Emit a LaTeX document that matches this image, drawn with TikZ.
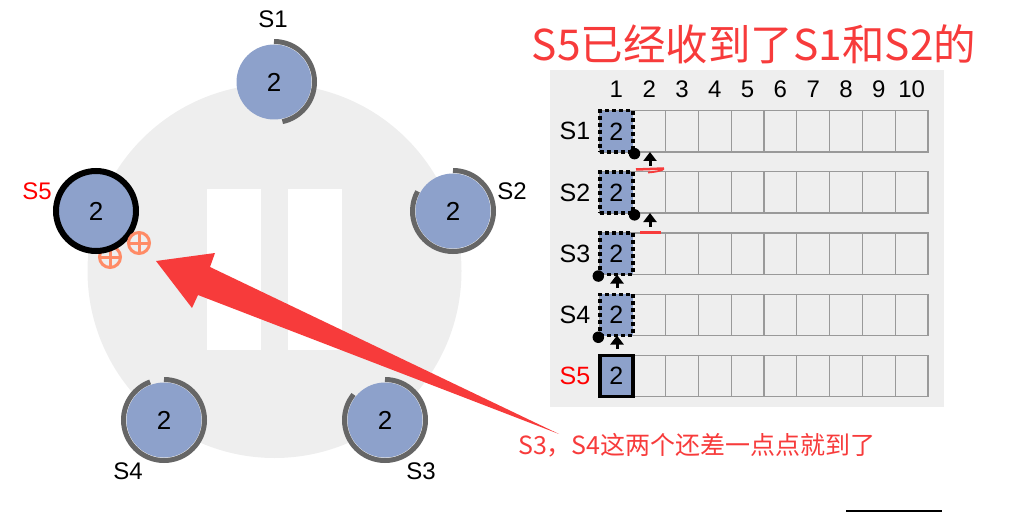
\documentclass[tikz,border=0pt]{standalone}
\usepackage{fontspec}
\setmainfont{Liberation Sans}
\newfontfamily\cjk{Noto Sans CJK SC}
\usetikzlibrary{arrows.meta}
\definecolor{bgcircle}{HTML}{EEEEEE}
\definecolor{nodeblue}{HTML}{8DA1CB}
\definecolor{arcgray}{HTML}{666666}
\definecolor{cellgray}{HTML}{999999}
\definecolor{annred}{HTML}{F73B3B}
\definecolor{lblred}{HTML}{FF0000}
\definecolor{voteorange}{HTML}{FF8B66}
\begin{document}
\begin{tikzpicture}[x=1pt,y=1pt,
  server/.style={circle, fill=nodeblue, minimum size=75pt, inner sep=0pt, font=\fontsize{26}{30}\selectfont},
  leader/.style={server, draw=black, line width=6pt, minimum size=80pt},
  timer/.style={draw=arcgray, line width=5pt},
  lbl/.style={font=\fontsize{24}{28}\selectfont, inner sep=0pt},
  cell/.style={draw=cellgray, line width=1.3pt, minimum width=32.8pt, minimum height=41.3pt, inner sep=0pt},
  entry/.style={draw=black, fill=nodeblue, line width=3.4pt, dash pattern=on 4pt off 3pt, minimum width=32.8pt, minimum height=41.3pt, inner sep=0pt, font=\fontsize{25}{30}\selectfont},
  committed/.style={entry, solid},
  hdr/.style={font=\fontsize{24}{28}\selectfont, inner sep=0pt},
  rowlbl/.style={font=\fontsize{25}{30}\selectfont, inner sep=0pt},
  vote/.style={circle, draw=voteorange, line width=3pt, minimum size=21pt, inner sep=0pt,
    path picture={\draw[voteorange, line width=3pt] (path picture bounding box.north) -- (path picture bounding box.south) (path picture bounding box.west) -- (path picture bounding box.east);}},
  dot/.style={circle, fill=black, minimum size=11.5pt, inner sep=0pt},
  uparrow/.style={-{Triangle[width=13pt,length=9pt]}, line width=3pt},
  redmark/.style={draw=annred, line width=2.5pt},
]
\useasboundingbox (0,0) rectangle (1024,512);
% background circle with pause bars
\fill[bgcircle] (274.5,241) circle (187);
\fill[white] (207,162) rectangle (261,323);
\fill[white] (288,162) rectangle (342,323);

% vote markers (first one sits behind S5)
\node[vote] (v1) at (110,255) {};

% servers
\node[server] (s1) at (274,430) {2};
\node[server] (s2) at (453,301) {2};
\node[server] (s3) at (385,92) {2};
\node[server] (s4) at (164,92) {2};
\node[leader] (s5) at (96,301) {2};
\node[vote] (v2) at (139,269) {};

\draw[timer] (s1.center) ++(90:40.5) arc[start angle=90, end angle=-78, radius=40.5];
\draw[timer] (s2.center) ++(90:40.5) arc[start angle=90, end angle=-209, radius=40.5];
\draw[timer] (s3.center) ++(90:40.5) arc[start angle=90, end angle=-219, radius=40.5];
\draw[timer] (s4.center) ++(90:40.5) arc[start angle=90, end angle=-250, radius=40.5];

\node[lbl] (l1) at (273,493) {S1};
\node[lbl] (l2) at (512,321) {S2};
\node[lbl] (l3) at (421,41) {S3};
\node[lbl] (l4) at (128,41) {S4};
\node[lbl, text=lblred] (l5) at (37,321) {S5};

% title
\node[text=annred, font=\cjk\fontsize{42.5}{48}\selectfont, inner sep=0pt] (title) at (754,468) {S5已经收到了S1和S2的};

% log panel
\fill[bgcircle] (550,105) rectangle (944,442);
\foreach \j in {1,...,10} {
  \node[hdr] (h\j) at ({600+32.8*(\j-0.5)},423) {\j};
}
\foreach \i in {1,...,5} {
  \foreach \j in {1,...,10} {
    \node[cell] (c\i-\j) at ({600+32.8*(\j-0.5)},{380.7-61.2*(\i-1)}) {};
  }
}
\foreach \i in {1,...,4} {
  \node[rowlbl] (r\i) at (575,{380.7-61.2*(\i-1)}) {S\i};
  \node[entry] (e\i) at (c\i-1) {2};
}
\node[rowlbl, text=lblred] (r5) at (575,135.9) {S5};
\node[committed] (e5) at (c5-1) {2};

% match/next index markers
\node[dot] (d1) at (e1.south east) {};
\node[dot] (d2) at (e2.south east) {};
\node[dot] (d3) at (e3.south west) {};
\node[dot] (d4) at (e4.south west) {};
\coordinate (a1) at (650,346);
\coordinate (a2) at (650,285);
\coordinate (a3) at (617,224);
\coordinate (a4) at (617,163);
\draw[uparrow] (a1) -- ++(0,14);
\draw[uparrow] (a2) -- ++(0,14);
\draw[uparrow] (a3) -- ++(0,13.5);
\draw[uparrow] (a4) -- ++(0,13.5);

% hand-drawn red marks
\draw[redmark] (636,342.5) -- (664,343.5);
\draw[redmark, line width=1.8pt] (648,339.5) .. controls (655,340) and (660,341) .. (663,342.5);
\draw[redmark] (640,279.5) -- (661,279.5);

% big red arrow pointing at the votes
\fill[annred] (156,251) -- (215,259) -- (210,245) -- (559,78) -- (198,217) -- (192,204) -- cycle;
\node[anchor=west, text=annred, font=\cjk\fontsize{25}{29}\selectfont, inner sep=0pt] (note) at (518,67) {S3，S4这两个还差一点点就到了};

% stray line at the bottom edge
\draw[line width=2pt] (846,1) -- (942,1);
\end{tikzpicture}
\end{document}
